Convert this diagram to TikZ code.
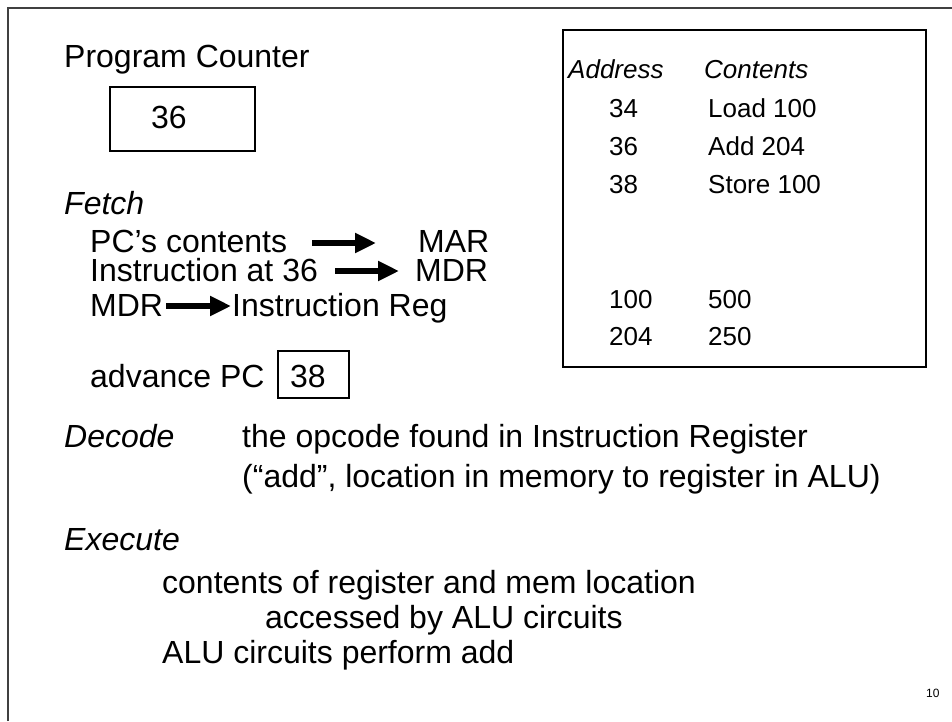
\documentclass[tikz,border=0pt]{standalone}
\usepackage{fontspec}
\setmainfont{Liberation Sans}
\usetikzlibrary{arrows.meta}
\begin{document}
\begin{tikzpicture}[x=1pt,y=-1pt,
  txt/.style={anchor=base west,inner sep=0pt,font=\fontsize{32}{38}\selectfont},
  itx/.style={txt,font=\fontsize{32}{38}\selectfont\itshape},
  mem/.style={anchor=base west,inner sep=0pt,font=\fontsize{26}{31}\selectfont},
  memi/.style={mem,font=\fontsize{26}{31}\selectfont\itshape},
  box/.style={draw=black,line width=1.2pt},
  frame/.style={draw=black!75,line width=1.3pt},
  bigarrow/.style={line width=5.5pt,-{Triangle[length=21pt,width=19pt]}}]
\useasboundingbox (0,0) rectangle (952,721);
% slide frame
\draw[frame] (8,721) -- (8,8) -- (952,8);
% program counter
\node[txt] (pclabel) at (64,67) {Program Counter};
\draw[box] (110,87) rectangle (255,151);
\node[txt] (pcval) at (151,128) {36};
% fetch
\node[itx] (fetch) at (64,214) {Fetch};
\node[txt] (r1a) at (90,252) {PC’s contents};
\node[txt] (r1b) at (418,252) {MAR};
\node[txt] (r2a) at (90,281) {Instruction at 36};
\node[txt] (r2b) at (415,281) {MDR};
\node[txt] (r3a) at (90,316) {MDR};
\node[txt] (r3b) at (232,316) {Instruction Reg};
\coordinate (a1s) at (312,243); \coordinate (a1e) at (376,243);
\coordinate (a2s) at (335,271); \coordinate (a2e) at (399,271);
\coordinate (a3s) at (166,306); \coordinate (a3e) at (231,306);
\draw[bigarrow] (a1s) -- (a1e);
\draw[bigarrow] (a2s) -- (a2e);
\draw[bigarrow] (a3s) -- (a3e);
% advance PC
\node[txt] (adv) at (90,387) {advance PC};
\draw[box] (278,351) rectangle (349,398);
\node[txt] (advval) at (290,387) {38};
% decode
\node[itx] (decode) at (64,447) {Decode};
\node[txt] (dec1) at (242,447) {the opcode found in Instruction Register};
\node[txt] (dec2) at (242,487) {(“add”, location in memory to register in ALU)};
% execute
\node[itx] (execute) at (64,550) {Execute};
\node[txt] (ex1) at (162,593) {contents of register and mem location};
\node[txt] (ex2) at (265,628) {accessed by ALU circuits};
\node[txt] (ex3) at (162,663) {ALU circuits perform add};
% memory
\draw[box] (563,30) rectangle (926,367);
\node[memi] (addr) at (568,78) {Address};
\node[memi] (cont) at (704,78) {Contents};
\node[mem] (m1a) at (609,117) {34};
\node[mem] (m1b) at (708,117) {Load 100};
\node[mem] (m2a) at (609,155) {36};
\node[mem] (m2b) at (708,155) {Add 204};
\node[mem] (m3a) at (609,193) {38};
\node[mem] (m3b) at (708,193) {Store 100};
\node[mem] (m4a) at (609,308) {100};
\node[mem] (m4b) at (708,308) {500};
\node[mem] (m5a) at (609,345) {204};
\node[mem] (m5b) at (708,345) {250};
% page number
\node[anchor=base west,inner sep=0pt,font=\fontsize{12}{14}\selectfont] (pg) at (926,697) {10};
\end{tikzpicture}
\end{document}
